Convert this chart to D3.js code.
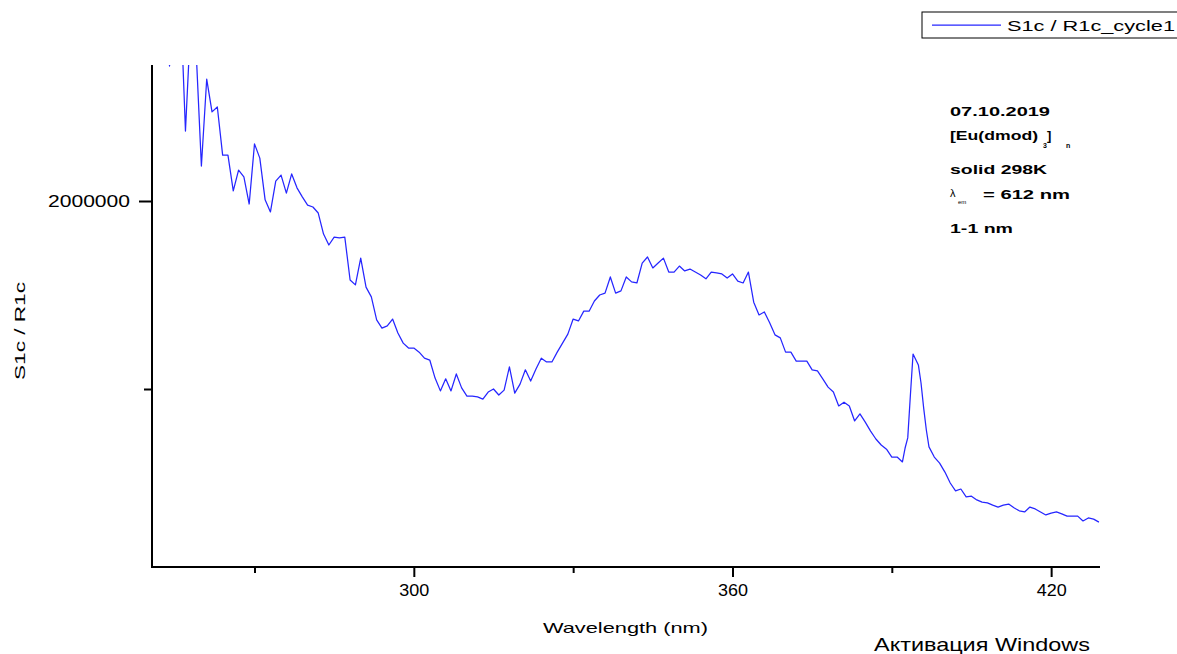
<!DOCTYPE html>
<html>
<head>
<meta charset="utf-8">
<script src="https://cdn.jsdelivr.net/npm/d3@7"></script>
<style>
  html, body { margin: 0; padding: 0; background: #fff; }
  svg { display: block; }
  text { font-family: "Liberation Sans", Arial, sans-serif; fill: #000; }
</style>
</head>
<body>
<svg id="chart" width="1177" height="654"></svg>
<script>
// Excitation spectrum, S1c / R1c ratio vs. wavelength
const wavelengths = [
  252, 253, 254, 255, 256, 257, 258, 259, 260, 261, 262, 263, 264, 265, 266, 267, 268, 269, 270,
  271, 272, 273, 274, 275, 276, 277, 278, 279, 280, 281, 282, 283, 284, 285, 286, 287, 288, 289, 290,
  291, 292, 293, 294, 295, 296, 297, 298, 299, 300, 301, 302, 303, 304, 305, 306, 307, 308, 309, 310,
  311, 312, 313, 314, 315, 316, 317, 318, 319, 320, 321, 322, 323, 324, 325, 326, 327, 328, 329, 330,
  331, 332, 333, 334, 335, 336, 337, 338, 339, 340, 341, 342, 343, 344, 345, 346, 347, 348, 349, 350,
  351, 352, 353, 354, 355, 356, 357, 358, 359, 360, 361, 362, 363, 364, 365, 366, 367, 368, 369, 370,
  371, 372, 373, 374, 375, 376, 377, 378, 379, 380, 381, 382, 383, 384, 385, 386, 387, 388, 389, 390,
  391, 392, 392.5, 393, 393.5, 394, 395, 395.5, 396, 396.5, 397, 398, 399, 400,
  401, 402, 403, 404, 405, 406, 407, 408, 409, 410, 411, 412, 413, 414, 415, 416, 417, 418, 419, 420,
  421, 422, 423, 424, 425, 426, 427, 428, 429
];

const intensity = [
  2694000, 2641000, 2359000, 2588000, 2561000, 2186000, 2481000, 2402000, 2093000, 2324000,
  2237000, 2250000, 2122000, 2122000, 2027000, 2082000, 2064000, 1992000, 2152000,
  2114000, 2003000, 1971000, 2053000, 2069000, 2021000, 2072000, 2035000, 2011000, 1989000,
  1984000, 1968000, 1912000, 1883000, 1904000, 1902000, 1904000, 1790000, 1777000, 1848000,
  1771000, 1745000, 1684000, 1662000, 1668000, 1686000, 1649000, 1622000, 1609000, 1609000,
  1598000, 1582000, 1577000, 1529000, 1495000, 1527000, 1495000, 1540000, 1503000, 1481000,
  1481000, 1479000, 1473000, 1492000, 1500000, 1484000, 1497000, 1559000, 1489000, 1513000,
  1551000, 1521000, 1553000, 1582000, 1572000, 1572000, 1598000, 1622000, 1646000, 1686000,
  1681000, 1707000, 1707000, 1734000, 1750000, 1755000, 1798000, 1755000, 1761000, 1798000,
  1785000, 1782000, 1835000, 1851000, 1822000, 1835000, 1848000, 1811000, 1811000, 1827000,
  1814000, 1819000, 1811000, 1803000, 1793000, 1811000, 1809000, 1806000, 1795000, 1806000,
  1787000, 1782000, 1811000, 1731000, 1697000, 1705000, 1676000, 1644000, 1636000, 1598000,
  1598000, 1574000, 1574000, 1574000, 1551000, 1548000, 1527000, 1505000, 1492000, 1455000,
  1465000, 1455000, 1415000, 1434000, 1412000, 1388000, 1367000, 1351000, 1340000, 1319000,
  1319000, 1306000, 1343000, 1370000, 1484000, 1593000, 1564000, 1516000, 1449000, 1391000,
  1346000, 1319000, 1303000, 1279000,
  1250000, 1229000, 1234000, 1213000, 1215000, 1205000, 1199000, 1197000, 1191000, 1186000,
  1191000, 1194000, 1184000, 1176000, 1173000, 1186000, 1181000, 1173000, 1165000, 1170000,
  1173000, 1168000, 1162000, 1162000, 1162000, 1149000, 1157000, 1154000, 1146000
];

const xMajorTicks = [300, 360, 420];
const xMinorTicks = [270, 330, 390];
const yMajorTicks = [2000000];
const yMinorTicks = [1500000];

const seriesName = "S1c / R1c_cycle1";
const xTitle = "Wavelength (nm)";
const yTitle = "S1c / R1c";

const data = wavelengths.map((w, i) => ({ w, v: intensity[i] }));

const svg = d3.select("#chart");
const plot = { left: 152, right: 1100, top: 65, bottom: 567 };

const x = d3.scaleLinear().domain([250.7, 429.2]).range([plot.left, plot.right]);
const y = d3.scaleLinear().domain([1026600, 2361700]).range([plot.bottom, plot.top]);

// clip region for the trace
svg.append("defs").append("clipPath").attr("id", "plotClip")
  .append("rect")
  .attr("x", plot.left).attr("y", plot.top)
  .attr("width", plot.right - plot.left).attr("height", plot.bottom - plot.top);

// spectrum trace
const line = d3.line().x(d => x(d.w)).y(d => y(d.v));
svg.append("path")
  .datum(data)
  .attr("clip-path", "url(#plotClip)")
  .attr("fill", "none")
  .attr("stroke", "#2626ff")
  .attr("stroke-width", 1.25)
  .attr("stroke-linejoin", "round")
  .attr("d", line);

// x axis: minor ticks, then major ticks with labels
const xMinor = svg.append("g").attr("transform", `translate(0,${plot.bottom})`)
  .call(d3.axisBottom(x).tickValues(xMinorTicks).tickSize(6).tickFormat(""));
const xMajor = svg.append("g").attr("transform", `translate(0,${plot.bottom})`)
  .call(d3.axisBottom(x).tickValues(xMajorTicks).tickSize(10).tickPadding(6).tickFormat(d3.format("d")));

// y axis: minor tick, then major tick with label
const yMinor = svg.append("g").attr("transform", `translate(${plot.left},0)`)
  .call(d3.axisLeft(y).tickValues(yMinorTicks).tickSize(8).tickFormat(""));
const yMajor = svg.append("g").attr("transform", `translate(${plot.left},0)`)
  .call(d3.axisLeft(y).tickValues(yMajorTicks).tickSize(13).tickPadding(8).tickFormat(d3.format("d")));

[xMinor, xMajor, yMinor, yMajor].forEach(g => {
  g.select(".domain").remove();
  g.selectAll(".tick line").attr("stroke", "#000").attr("stroke-width", 2);
});

xMajor.selectAll(".tick text")
  .attr("font-family", "Liberation Sans, Arial, sans-serif")
  .attr("font-size", 17)
  .attr("fill", "#000")
  .attr("y", 17)
  .attr("dy", "0.71em")
  .attr("textLength", 30)
  .attr("lengthAdjust", "spacingAndGlyphs");

yMajor.selectAll(".tick text")
  .attr("font-family", "Liberation Sans, Arial, sans-serif")
  .attr("font-size", 17)
  .attr("fill", "#000")
  .attr("dy", "0.35em")
  .attr("x", -22)
  .attr("textLength", 82)
  .attr("lengthAdjust", "spacingAndGlyphs");

// axis lines
svg.append("line")
  .attr("x1", plot.left).attr("x2", plot.left)
  .attr("y1", plot.top).attr("y2", plot.bottom + 1)
  .attr("stroke", "#000").attr("stroke-width", 2);
svg.append("line")
  .attr("x1", plot.left - 1).attr("x2", plot.right)
  .attr("y1", plot.bottom).attr("y2", plot.bottom)
  .attr("stroke", "#000").attr("stroke-width", 2);

// axis titles
svg.append("text")
  .attr("x", 543).attr("y", 633)
  .attr("font-size", 15)
  .attr("textLength", 165).attr("lengthAdjust", "spacingAndGlyphs")
  .text(xTitle);

svg.append("text")
  .attr("transform", "translate(25,380) rotate(-90)")
  .attr("font-size", 15)
  .attr("textLength", 98).attr("lengthAdjust", "spacingAndGlyphs")
  .text(yTitle);

// legend
const legend = svg.append("g");
legend.append("rect")
  .attr("x", 922).attr("y", 12).attr("width", 270).attr("height", 26)
  .attr("fill", "#fff").attr("stroke", "#000").attr("stroke-width", 1);
legend.append("line")
  .attr("x1", 932).attr("x2", 1001).attr("y1", 25).attr("y2", 25)
  .attr("stroke", "#2626ff").attr("stroke-width", 1.25);
legend.append("text")
  .attr("x", 1007).attr("y", 31)
  .attr("font-size", 15)
  .attr("textLength", 168).attr("lengthAdjust", "spacingAndGlyphs")
  .text(seriesName);

// sample annotation block
const note = svg.append("g").attr("font-weight", "bold").attr("font-size", 13);
note.append("text").attr("x", 950).attr("y", 116)
  .attr("textLength", 100).attr("lengthAdjust", "spacingAndGlyphs").text("07.10.2019");
note.append("text").attr("x", 950).attr("y", 140)
  .attr("textLength", 88).attr("lengthAdjust", "spacingAndGlyphs").text("[Eu(dmod)");
note.append("text").attr("x", 1043).attr("y", 148).attr("font-size", 7).text("3");
note.append("text").attr("x", 1047).attr("y", 140).text("]");
note.append("text").attr("x", 1066).attr("y", 148).attr("font-size", 7).text("n");
note.append("text").attr("x", 950).attr("y", 174)
  .attr("textLength", 97).attr("lengthAdjust", "spacingAndGlyphs").text("solid 298K");
note.append("text").attr("x", 950).attr("y", 197).attr("font-size", 11).attr("font-weight", "normal").text("λ");
note.append("text").attr("x", 958).attr("y", 204).attr("font-size", 6).attr("font-weight", "normal").text("em");
note.append("text").attr("x", 983).attr("y", 199)
  .attr("textLength", 87).attr("lengthAdjust", "spacingAndGlyphs").text("= 612 nm");
note.append("text").attr("x", 950).attr("y", 233)
  .attr("textLength", 63).attr("lengthAdjust", "spacingAndGlyphs").text("1-1 nm");

// system watermark in the lower right corner
svg.append("text")
  .attr("x", 874).attr("y", 651)
  .attr("font-family", "Open Sans, Noto Sans, sans-serif")
  .attr("font-size", 19)
  .attr("fill", "#c4c4c4")
  .attr("textLength", 216).attr("lengthAdjust", "spacingAndGlyphs")
  .text("Активация Windows");
</script>
</body>
</html>
